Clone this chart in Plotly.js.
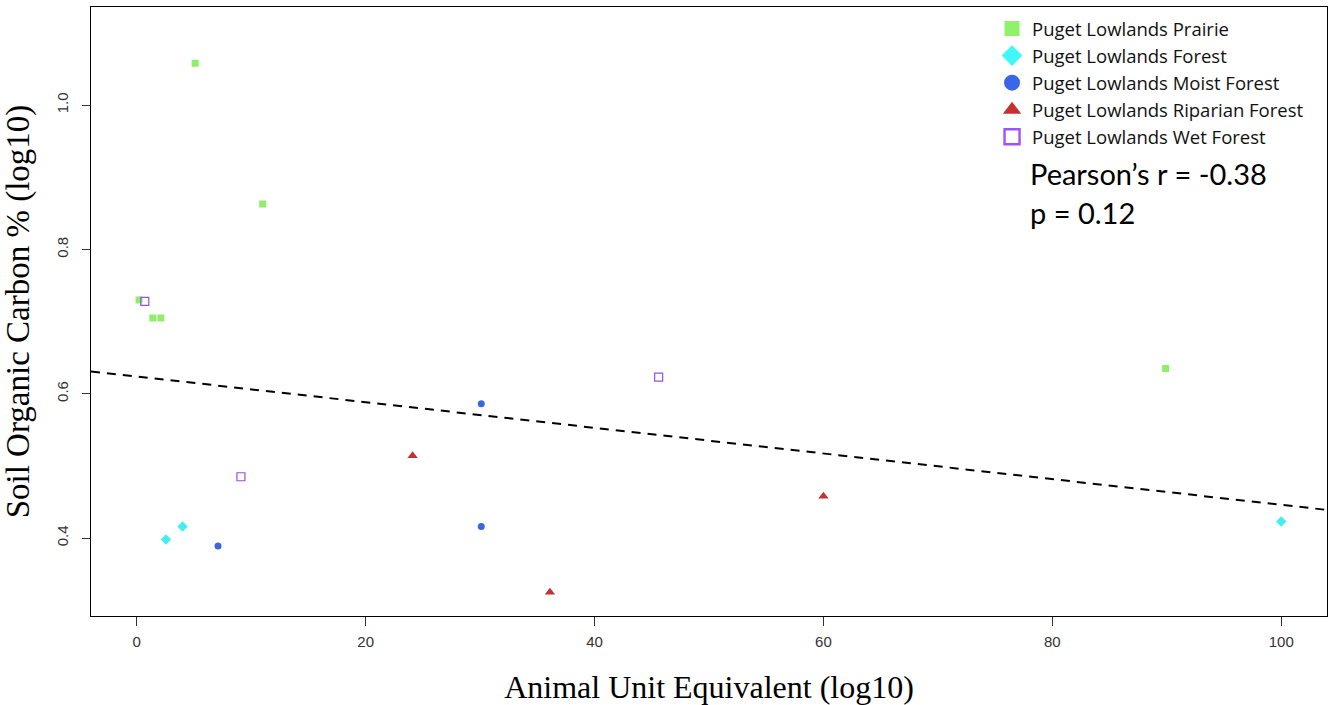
<!DOCTYPE html>
<html>
<head>
<meta charset="utf-8">
<script src="https://cdn.plot.ly/plotly-3.0.1.min.js"></script>
<style>html,body{margin:0;padding:0;background:#fff;}#chart{width:1333px;height:705px;}</style>
</head>
<body>
<div id="chart"></div>
<script>
// Data
const prairieX = [0.2, 1.4, 2.1, 5.1, 11.0, 89.9];
const prairieY = [0.730, 0.705, 0.705, 1.058, 0.863, 0.635];
const forestX = [2.55, 4.0, 100.0];
const forestY = [0.398, 0.416, 0.423];
const moistX = [7.1, 30.1, 30.1];
const moistY = [0.389, 0.586, 0.416];
const riparianX = [24.1, 36.1, 60.0];
const riparianY = [0.514, 0.325, 0.458];
const wetX = [0.7, 9.1, 45.6];
const wetY = [0.728, 0.485, 0.623];
const trendX = [-4, 104];
const trendY = [0.631, 0.439];
const seriesNames = ["Puget Lowlands Prairie", "Puget Lowlands Forest", "Puget Lowlands Moist Forest", "Puget Lowlands Riparian Forest", "Puget Lowlands Wet Forest"];
const xTicks = [0, 20, 40, 60, 80, 100];
const yTicks = [0.4, 0.6, 0.8, 1.0];
const statsLines = ["Pearson\u2019s r = -0.38", "p = 0.12"];

const styles = [
  {symbol: "square", size: 7, color: "#90EE6A"},
  {symbol: "diamond", size: 8, color: "#40F0F0"},
  {symbol: "circle", size: 7, color: "#3A66E0"},
  {symbol: "triangle-up", size: 9, color: "#C03335"},
  {symbol: "square-open", size: 8, color: "#9B4DE8", line: {width: 1.2}}
];
const legendStyles = [
  {symbol: "square", size: 15, color: "#90F26A"},
  {symbol: "diamond", size: 17, color: "#40F8F8"},
  {symbol: "circle", size: 16, color: "#3A66E8"},
  {symbol: "triangle-up", size: 16, color: "#C83030"},
  {symbol: "square-open", size: 15, color: "#A050FF", line: {width: 2.4}}
];
const seriesX = [prairieX, forestX, moistX, riparianX, wetX];
const seriesY = [prairieY, forestY, moistY, riparianY, wetY];

const traces = [];
seriesX.forEach((xs, i) => {
  traces.push({x: xs, y: seriesY[i], name: seriesNames[i], type: "scatter", mode: "markers",
               showlegend: false, marker: styles[i]});
});
traces.push({x: trendX, y: trendY, type: "scatter", mode: "lines", showlegend: false, hoverinfo: "skip",
             line: {color: "#000", width: 2, dash: "9px,7px"}});
// legend-only entries (larger symbols as in the reference legend)
seriesNames.forEach((n, i) => {
  traces.push({x: [null], y: [null], name: n, type: "scatter", mode: "markers", marker: legendStyles[i]});
});

const layout = {
  width: 1333, height: 705,
  paper_bgcolor: "#fff", plot_bgcolor: "#fff",
  margin: {l: 91, r: 6, t: 7, b: 89},
  showlegend: true,
  legend: {x: 0.729, y: 0.995, xanchor: "left", yanchor: "top", bgcolor: "rgba(0,0,0,0)",
           font: {family: "'Open Sans', Lato, sans-serif", size: 18.5, color: "#111"},
           itemsizing: "trace", tracegroupgap: 0},
  xaxis: {range: [-4, 104], tickvals: xTicks, ticktext: xTicks.map(String),
          showgrid: false, zeroline: false, showline: true, mirror: true, linecolor: "#000", linewidth: 1,
          ticks: "outside", ticklen: 9, tickcolor: "#333", ticklabelstandoff: 3,
          tickfont: {family: "'Liberation Sans Narrow', 'Liberation Sans', Arial, sans-serif", size: 15, color: "#333"},
          title: {text: "Animal Unit Equivalent (log10)", standoff: 26,
                  font: {family: "'Liberation Serif', 'Times New Roman', serif", size: 32, color: "#000"}}},
  yaxis: {range: [0.292, 1.136], tickvals: yTicks, ticktext: yTicks.map(v => v.toFixed(1)),
          showgrid: false, zeroline: false, showline: true, mirror: true, linecolor: "#000", linewidth: 1,
          ticks: "outside", ticklen: 8, tickcolor: "#333", tickangle: -90, ticklabelstandoff: 8,
          tickfont: {family: "'Liberation Sans Narrow', 'Liberation Sans', Arial, sans-serif", size: 15, color: "#333"},
          title: {text: "Soil Organic Carbon % (log10)", standoff: 16,
                  font: {family: "'Liberation Serif', 'Times New Roman', serif", size: 33, color: "#000"}}},
  annotations: [
    {xref: "paper", yref: "paper", x: 0.758, y: 0.726, xanchor: "left", yanchor: "middle", showarrow: false,
     text: statsLines[0], font: {family: "Lato, 'Noto Sans', sans-serif", size: 29, color: "#000"}},
    {xref: "paper", yref: "paper", x: 0.758, y: 0.662, xanchor: "left", yanchor: "middle", showarrow: false,
     text: statsLines[1], font: {family: "Lato, 'Noto Sans', sans-serif", size: 29, color: "#000"}}
  ]
};

Plotly.newPlot("chart", traces, layout, {displayModeBar: false, staticPlot: true});
</script>
</body>
</html>
